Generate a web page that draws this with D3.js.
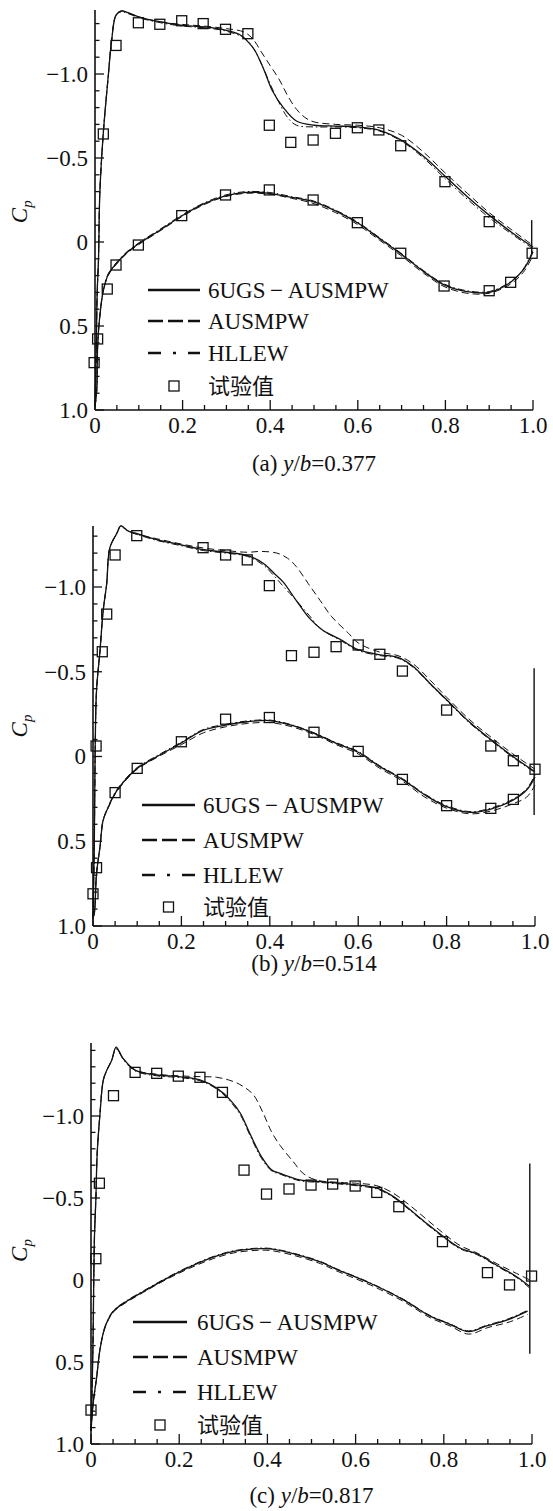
<!DOCTYPE html>
<html>
<head>
<meta charset="utf-8">
<script src="https://cdn.jsdelivr.net/npm/d3@7"></script>
<style>
body { margin: 0; background: #fff; }
</style>
</head>
<body>
<svg id="chart" width="553" height="1511"></svg>
<script>
// tick labels, legend and captions
var xTicksMajor = [0, 0.2, 0.4, 0.6, 0.8, 1.0];
var yTicksMajor = [-1.0, -0.5, 0, 0.5, 1.0];
var legendNames = ["6UGS\u2009\u2212\u2009AUSMPW", "AUSMPW", "HLLEW", "试验值"];
var captionLetters = ["(a)", "(b)", "(c)"];
var captionValues = ["0.377", "0.514", "0.817"];

// ---- panel (a) y/b=0.377 : [x/c, Cp]
var a_ugs_up = [[0,0.98],[0.003,0.6],[0.005,0.3],[0.008,0.1],[0.011,-0.29],[0.019,-0.65],[0.03,-0.98],[0.038,-1.2],[0.048,-1.35],[0.06,-1.375],[0.075,-1.365],[0.1,-1.34],[0.15,-1.31],[0.2,-1.29],[0.25,-1.28],[0.3,-1.26],[0.33,-1.235],[0.35,-1.19],[0.365,-1.14],[0.385,-1.03],[0.405,-0.9],[0.43,-0.8],[0.46,-0.72],[0.5,-0.695],[0.55,-0.69],[0.6,-0.685],[0.65,-0.665],[0.7,-0.605],[0.75,-0.51],[0.8,-0.39],[0.85,-0.27],[0.9,-0.16],[0.95,-0.06],[1.0,0.03]];
var a_ausm_up = [[0,0.98],[0.003,0.6],[0.005,0.3],[0.008,0.1],[0.011,-0.29],[0.019,-0.65],[0.03,-0.98],[0.038,-1.2],[0.048,-1.35],[0.06,-1.375],[0.075,-1.365],[0.1,-1.34],[0.15,-1.31],[0.2,-1.295],[0.25,-1.285],[0.3,-1.27],[0.34,-1.25],[0.36,-1.21],[0.38,-1.13],[0.4,-1.05],[0.42,-0.97],[0.44,-0.87],[0.46,-0.79],[0.48,-0.74],[0.5,-0.715],[0.55,-0.7],[0.6,-0.695],[0.65,-0.68],[0.7,-0.635],[0.75,-0.535],[0.8,-0.41],[0.85,-0.29],[0.9,-0.175],[0.95,-0.075],[1.0,0.02]];
var a_hllew_up = [[0,0.98],[0.003,0.6],[0.005,0.3],[0.008,0.1],[0.011,-0.29],[0.019,-0.65],[0.03,-0.98],[0.038,-1.2],[0.048,-1.35],[0.06,-1.37],[0.075,-1.36],[0.1,-1.335],[0.15,-1.305],[0.2,-1.285],[0.25,-1.275],[0.3,-1.255],[0.34,-1.215],[0.36,-1.16],[0.38,-1.06],[0.4,-0.94],[0.42,-0.83],[0.44,-0.74],[0.46,-0.695],[0.5,-0.685],[0.55,-0.685],[0.6,-0.68],[0.65,-0.66],[0.7,-0.6],[0.75,-0.5],[0.8,-0.375],[0.85,-0.255],[0.9,-0.145],[0.95,-0.05],[1.0,0.04]];
var a_ugs_lo = [[0,0.98],[0.004,0.88],[0.006,0.62],[0.011,0.44],[0.019,0.29],[0.03,0.195],[0.048,0.13],[0.072,0.065],[0.1,0.01],[0.148,-0.07],[0.198,-0.155],[0.247,-0.225],[0.298,-0.275],[0.346,-0.295],[0.398,-0.29],[0.449,-0.265],[0.498,-0.24],[0.549,-0.185],[0.599,-0.115],[0.65,-0.02],[0.698,0.07],[0.75,0.175],[0.797,0.255],[0.849,0.295],[0.9,0.3],[0.949,0.24],[0.978,0.165],[1.0,0.06]];
var a_ausm_lo = [[0,0.98],[0.004,0.88],[0.006,0.62],[0.011,0.44],[0.019,0.29],[0.03,0.2],[0.048,0.135],[0.072,0.07],[0.1,0.015],[0.148,-0.065],[0.198,-0.15],[0.247,-0.22],[0.298,-0.27],[0.346,-0.29],[0.398,-0.285],[0.449,-0.26],[0.498,-0.23],[0.549,-0.175],[0.599,-0.105],[0.65,-0.01],[0.698,0.08],[0.75,0.185],[0.797,0.265],[0.849,0.305],[0.9,0.305],[0.949,0.25],[0.978,0.18],[1.0,0.08]];
var a_hllew_lo = [[0,0.98],[0.004,0.88],[0.006,0.62],[0.011,0.44],[0.019,0.29],[0.03,0.19],[0.048,0.125],[0.072,0.06],[0.1,0.005],[0.148,-0.075],[0.198,-0.16],[0.247,-0.23],[0.298,-0.28],[0.346,-0.3],[0.398,-0.295],[0.449,-0.27],[0.498,-0.245],[0.549,-0.19],[0.599,-0.12],[0.65,-0.025],[0.698,0.065],[0.75,0.17],[0.797,0.25],[0.849,0.29],[0.9,0.295],[0.949,0.235],[0.978,0.16],[1.0,0.05]];
var a_exp = [[0.019,-0.643],[0.048,-1.17],[0.099,-1.305],[0.148,-1.296],[0.198,-1.317],[0.247,-1.30],[0.298,-1.266],[0.349,-1.24],[0.398,-0.695],[0.447,-0.593],[0.498,-0.607],[0.549,-0.647],[0.599,-0.68],[0.648,-0.667],[0.698,-0.573],[0.799,-0.359],[0.90,-0.121],[0.998,0.067],[0.099,0.018],[0.198,-0.157],[0.298,-0.28],[0.398,-0.31],[0.498,-0.25],[0.599,-0.115],[0.698,0.067],[0.797,0.262],[0.90,0.29],[0.949,0.24],[0.048,0.137],[0.028,0.28],[0.006,0.577],[-0.002,0.718]];
var a_te = [[0.997,-0.13],[0.997,0.07]];

// ---- panel (b) y/b=0.514
var b_ugs_up = [[0,0.95],[0.003,0.5],[0.005,-0.06],[0.008,-0.39],[0.016,-0.63],[0.023,-0.86],[0.031,-1.02],[0.038,-1.23],[0.054,-1.317],[0.063,-1.36],[0.08,-1.33],[0.1,-1.315],[0.144,-1.28],[0.197,-1.25],[0.25,-1.22],[0.3,-1.205],[0.35,-1.185],[0.385,-1.14],[0.41,-1.08],[0.43,-1.03],[0.46,-0.92],[0.49,-0.815],[0.52,-0.745],[0.56,-0.69],[0.6,-0.63],[0.65,-0.6],[0.69,-0.585],[0.725,-0.53],[0.763,-0.43],[0.8,-0.335],[0.853,-0.2],[0.9,-0.1],[0.95,0.0],[1.0,0.09]];
var b_ausm_up = [[0,0.95],[0.003,0.5],[0.005,-0.06],[0.008,-0.39],[0.016,-0.63],[0.023,-0.86],[0.031,-1.02],[0.038,-1.23],[0.054,-1.317],[0.063,-1.355],[0.08,-1.33],[0.1,-1.31],[0.144,-1.285],[0.197,-1.255],[0.25,-1.23],[0.3,-1.215],[0.35,-1.205],[0.38,-1.21],[0.416,-1.2],[0.44,-1.17],[0.46,-1.12],[0.487,-1.02],[0.514,-0.92],[0.54,-0.825],[0.578,-0.727],[0.6,-0.67],[0.65,-0.615],[0.69,-0.595],[0.725,-0.545],[0.763,-0.45],[0.8,-0.35],[0.853,-0.215],[0.9,-0.115],[0.95,-0.015],[1.0,0.075]];
var b_hllew_up = [[0,0.95],[0.003,0.5],[0.005,-0.06],[0.008,-0.39],[0.016,-0.63],[0.023,-0.86],[0.031,-1.02],[0.038,-1.23],[0.054,-1.317],[0.063,-1.36],[0.08,-1.33],[0.1,-1.31],[0.144,-1.275],[0.197,-1.245],[0.25,-1.215],[0.3,-1.2],[0.35,-1.18],[0.385,-1.13],[0.41,-1.065],[0.43,-1.005],[0.453,-0.94],[0.49,-0.83],[0.514,-0.755],[0.56,-0.685],[0.6,-0.625],[0.65,-0.595],[0.69,-0.58],[0.725,-0.525],[0.763,-0.425],[0.8,-0.33],[0.853,-0.195],[0.9,-0.095],[0.95,0.005],[1.0,0.095]];
var b_ugs_lo = [[0,0.95],[0.003,0.925],[0.008,0.69],[0.016,0.53],[0.023,0.375],[0.035,0.296],[0.05,0.217],[0.076,0.13],[0.1,0.07],[0.152,-0.01],[0.2,-0.08],[0.25,-0.155],[0.3,-0.185],[0.35,-0.205],[0.4,-0.212],[0.446,-0.186],[0.5,-0.137],[0.55,-0.078],[0.6,-0.025],[0.649,0.06],[0.7,0.135],[0.751,0.227],[0.8,0.296],[0.853,0.33],[0.9,0.31],[0.951,0.256],[0.981,0.198],[1.0,0.12]];
var b_ausm_lo = [[0,0.95],[0.003,0.925],[0.008,0.69],[0.016,0.53],[0.023,0.375],[0.035,0.3],[0.05,0.222],[0.076,0.135],[0.1,0.075],[0.152,-0.005],[0.2,-0.07],[0.25,-0.14],[0.3,-0.175],[0.35,-0.195],[0.4,-0.2],[0.446,-0.178],[0.5,-0.13],[0.55,-0.07],[0.6,-0.015],[0.649,0.07],[0.7,0.145],[0.751,0.24],[0.8,0.305],[0.853,0.338],[0.9,0.322],[0.951,0.278],[0.981,0.24],[1.0,0.17]];
var b_hllew_lo = [[0,0.95],[0.003,0.925],[0.008,0.69],[0.016,0.53],[0.023,0.375],[0.035,0.292],[0.05,0.212],[0.076,0.125],[0.1,0.065],[0.152,-0.015],[0.2,-0.085],[0.25,-0.16],[0.3,-0.19],[0.35,-0.21],[0.4,-0.215],[0.446,-0.19],[0.5,-0.14],[0.55,-0.082],[0.6,-0.03],[0.649,0.055],[0.7,0.13],[0.751,0.222],[0.8,0.29],[0.853,0.325],[0.9,0.305],[0.951,0.25],[0.981,0.19],[1.0,0.11]];
var b_exp = [[0.099,-1.303],[0.05,-1.189],[0.031,-0.84],[0.021,-0.618],[0.249,-1.232],[0.3,-1.189],[0.349,-1.16],[0.399,-1.008],[0.007,-0.062],[0.2,-0.087],[0.3,-0.22],[0.399,-0.23],[0.449,-0.595],[0.5,-0.615],[0.55,-0.648],[0.6,-0.658],[0.649,-0.603],[0.7,-0.504],[0.8,-0.274],[0.9,-0.062],[0.5,-0.143],[0.6,-0.03],[0.1,0.07],[0.05,0.213],[0.008,0.656],[0.0,0.81],[0.7,0.135],[0.8,0.29],[0.9,0.306],[0.951,0.253],[1.0,0.075],[0.951,0.025]];
var b_te = [[0.998,-0.52],[0.998,0.345]];

// ---- panel (c) y/b=0.817
var c_ugs_up = [[0,0.92],[0.003,0.6],[0.005,0.3],[0.006,0.05],[0.008,-0.28],[0.011,-0.49],[0.014,-0.77],[0.02,-1.0],[0.028,-1.22],[0.036,-1.28],[0.047,-1.34],[0.057,-1.42],[0.073,-1.35],[0.1,-1.28],[0.149,-1.25],[0.198,-1.24],[0.247,-1.22],[0.285,-1.17],[0.315,-1.1],[0.338,-1.02],[0.36,-0.895],[0.387,-0.75],[0.41,-0.67],[0.429,-0.65],[0.474,-0.61],[0.52,-0.6],[0.565,-0.59],[0.602,-0.58],[0.648,-0.56],[0.685,-0.51],[0.723,-0.43],[0.761,-0.345],[0.799,-0.265],[0.837,-0.195],[0.875,-0.16],[0.92,-0.09],[0.965,-0.02],[0.995,0.04]];
var c_ausm_up = [[0,0.92],[0.003,0.6],[0.005,0.3],[0.006,0.05],[0.008,-0.28],[0.011,-0.49],[0.014,-0.77],[0.02,-1.0],[0.028,-1.22],[0.036,-1.28],[0.047,-1.34],[0.057,-1.41],[0.073,-1.35],[0.1,-1.28],[0.149,-1.255],[0.198,-1.245],[0.247,-1.24],[0.285,-1.236],[0.323,-1.21],[0.345,-1.18],[0.368,-1.13],[0.39,-1.02],[0.41,-0.9],[0.429,-0.82],[0.459,-0.72],[0.481,-0.65],[0.51,-0.61],[0.565,-0.595],[0.602,-0.59],[0.648,-0.575],[0.685,-0.53],[0.723,-0.455],[0.761,-0.37],[0.799,-0.285],[0.837,-0.21],[0.875,-0.165],[0.92,-0.1],[0.965,-0.04],[0.995,0.0]];
var c_hllew_up = [[0,0.92],[0.003,0.6],[0.005,0.3],[0.006,0.05],[0.008,-0.28],[0.011,-0.49],[0.014,-0.77],[0.02,-1.0],[0.028,-1.22],[0.036,-1.28],[0.047,-1.34],[0.057,-1.415],[0.073,-1.345],[0.1,-1.275],[0.149,-1.245],[0.198,-1.235],[0.247,-1.215],[0.285,-1.165],[0.315,-1.09],[0.338,-1.01],[0.36,-0.885],[0.387,-0.74],[0.41,-0.665],[0.429,-0.645],[0.474,-0.605],[0.52,-0.595],[0.565,-0.585],[0.602,-0.575],[0.648,-0.555],[0.685,-0.505],[0.723,-0.425],[0.761,-0.34],[0.799,-0.26],[0.837,-0.19],[0.875,-0.155],[0.92,-0.085],[0.965,-0.015],[0.995,0.05]];
var c_ugs_lo = [[0,0.92],[0.005,0.75],[0.013,0.59],[0.02,0.43],[0.032,0.285],[0.051,0.19],[0.081,0.13],[0.119,0.07],[0.172,-0.01],[0.224,-0.08],[0.277,-0.14],[0.323,-0.175],[0.37,-0.19],[0.406,-0.19],[0.46,-0.16],[0.52,-0.11],[0.557,-0.065],[0.633,0.02],[0.708,0.12],[0.769,0.22],[0.814,0.27],[0.856,0.315],[0.897,0.28],[0.943,0.245],[0.99,0.19]];
var c_ausm_lo = [[0,0.92],[0.005,0.75],[0.013,0.59],[0.02,0.43],[0.032,0.29],[0.051,0.195],[0.081,0.135],[0.119,0.075],[0.172,-0.005],[0.224,-0.072],[0.277,-0.13],[0.323,-0.165],[0.37,-0.18],[0.406,-0.18],[0.46,-0.15],[0.52,-0.1],[0.557,-0.055],[0.633,0.03],[0.708,0.13],[0.769,0.23],[0.814,0.28],[0.856,0.33],[0.9,0.29],[0.95,0.255],[0.99,0.21]];
var c_hllew_lo = [[0,0.92],[0.005,0.75],[0.013,0.59],[0.02,0.43],[0.032,0.282],[0.051,0.186],[0.081,0.126],[0.119,0.066],[0.172,-0.014],[0.224,-0.084],[0.277,-0.143],[0.323,-0.178],[0.37,-0.193],[0.406,-0.193],[0.46,-0.163],[0.52,-0.113],[0.557,-0.068],[0.633,0.017],[0.708,0.117],[0.769,0.217],[0.814,0.267],[0.856,0.31],[0.897,0.276],[0.943,0.24],[0.99,0.185]];
var c_exp = [[0.051,-1.124],[0.1,-1.266],[0.149,-1.26],[0.198,-1.243],[0.247,-1.236],[0.298,-1.144],[0.347,-0.67],[0.398,-0.524],[0.019,-0.59],[0.011,-0.13],[0.449,-0.555],[0.499,-0.579],[0.548,-0.585],[0.599,-0.573],[0.648,-0.534],[0.698,-0.447],[0.797,-0.234],[0.0,0.793],[0.899,-0.045],[0.949,0.03],[0.999,-0.024]];
var c_te = [[0.995,-0.71],[0.995,0.45]];

// layout of the three stacked panels (pixel positions only)
var panels = [
  {data: {ugs: [a_ugs_up, a_ugs_lo], ausm: [a_ausm_up, a_ausm_lo], hllew: [a_hllew_up, a_hllew_lo], exp: a_exp, te: a_te},
   xr: [95, 533], yr: [74, 410], yTop: 10, leg: {x1: 148, x2: 200, tx: 208, rows: [290, 321, 353, 386]}, capY: 471},
  {data: {ugs: [b_ugs_up, b_ugs_lo], ausm: [b_ausm_up, b_ausm_lo], hllew: [b_hllew_up, b_hllew_lo], exp: b_exp, te: b_te},
   xr: [93, 535], yr: [587, 926], yTop: 526, leg: {x1: 142, x2: 195, tx: 203, rows: [805, 840, 875, 907]}, capY: 971},
  {data: {ugs: [c_ugs_up, c_ugs_lo], ausm: [c_ausm_up, c_ausm_lo], hllew: [c_hllew_up, c_hllew_lo], exp: c_exp, te: c_te},
   xr: [91, 532], yr: [1116, 1444], yTop: 1043, leg: {x1: 133, x2: 187, tx: 197, rows: [1322, 1357, 1392, 1425]}, capY: 1503}
];

var styles = {
  ugs:   {w: 1.3, dash: null,        lw: 2.6, ldash: null},
  ausm:  {w: 1.0, dash: "7,4",       lw: 2.6, ldash: "15,5"},
  hllew: {w: 1.0, dash: "7,3,1.5,3", lw: 2.6, ldash: "13,12,3,12"}
};

var serif = "'Liberation Serif', 'Times New Roman', serif";
var svg = d3.select("#chart").attr("font-family", serif);
var fmt = function (d) { return d === 0 ? "0" : d3.format(".1f")(d); };

panels.forEach(function (p, i) {
  var x = d3.scaleLinear().domain([0, 1]).range(p.xr);
  var y = d3.scaleLinear().domain([-1, 1]).range(p.yr);
  var g = svg.append("g").attr("font-family", serif).attr("fill", "#111");

  var line = d3.line()
    .x(function (d) { return x(d[0]); })
    .y(function (d) { return y(d[1]); })
    .curve(d3.curveCatmullRom.alpha(0.5));

  // computed curves, upper and lower surface
  ["hllew", "ausm", "ugs"].forEach(function (k) {
    p.data[k].forEach(function (arr) {
      g.append("path")
        .attr("d", line(arr))
        .attr("fill", "none")
        .attr("stroke", "#111")
        .attr("stroke-width", styles[k].w)
        .attr("stroke-dasharray", styles[k].dash);
    });
  });

  // trailing edge line
  g.append("path")
    .attr("d", d3.line().x(function (d) { return x(d[0]); }).y(function (d) { return y(d[1]); })(p.data.te))
    .attr("stroke", "#111").attr("stroke-width", 1.4).attr("fill", "none");

  // experiment squares
  g.selectAll(".sq").data(p.data.exp).enter().append("rect")
    .attr("x", function (d) { return x(d[0]) - 5; })
    .attr("y", function (d) { return y(d[1]) - 5; })
    .attr("width", 10).attr("height", 10)
    .attr("fill", "none").attr("stroke", "#111").attr("stroke-width", 1.3);

  // axes (ticks point inwards)
  var yTopVal = y.invert(p.yTop);
  var yMinor = d3.range(1.0, yTopVal - 0.001, -0.1);
  var xMinor = d3.range(0, 1.0001, 0.05);
  var ax = g.append("g").attr("stroke", "#111").attr("stroke-width", 1.3);
  ax.append("line").attr("x1", x(0)).attr("x2", x(0)).attr("y1", p.yTop).attr("y2", y(1)).attr("stroke-width", 1.6);
  ax.append("line").attr("x1", x(0)).attr("x2", x(1)).attr("y1", y(1)).attr("y2", y(1)).attr("stroke-width", 1.6);
  ax.selectAll(".ym").data(yMinor).enter().append("line")
    .attr("x1", x(0)).attr("y1", function (d) { return y(d); }).attr("y2", function (d) { return y(d); })
    .attr("x2", function (d) { return x(0) + (Math.abs(d * 2 - Math.round(d * 2)) < 0.01 ? 9 : 4.5); });
  ax.selectAll(".xm").data(xMinor).enter().append("line")
    .attr("y1", y(1)).attr("x1", function (d) { return x(d); }).attr("x2", function (d) { return x(d); })
    .attr("y2", function (d) { return y(1) - (Math.abs(d * 5 - Math.round(d * 5)) < 0.01 ? 10 : 5); });

  g.selectAll(".yl").data(yTicksMajor).enter().append("text")
    .attr("x", x(0) - 7).attr("y", function (d) { return y(d); }).attr("dy", "0.34em")
    .attr("text-anchor", "end").attr("font-size", 23).text(fmt);
  g.selectAll(".xl").data(xTicksMajor).enter().append("text")
    .attr("x", function (d) { return x(d); }).attr("y", y(1) + 23)
    .attr("text-anchor", "middle").attr("font-size", 23).text(fmt);

  // Cp label
  var cp = g.append("text")
    .attr("transform", "translate(" + 27 + "," + y(-0.18) + ") rotate(-90)")
    .attr("text-anchor", "middle").attr("font-size", 23).attr("font-style", "italic");
  cp.append("tspan").text("C");
  cp.append("tspan").attr("dy", 5).attr("font-size", 15).text("p");

  // legend
  var L = p.leg;
  ["ugs", "ausm", "hllew"].forEach(function (k, j) {
    g.append("line").attr("x1", L.x1).attr("x2", L.x2).attr("y1", L.rows[j]).attr("y2", L.rows[j])
      .attr("stroke", "#111").attr("stroke-width", styles[k].lw).attr("stroke-dasharray", styles[k].ldash);
  });
  g.append("rect").attr("x", (L.x1 + L.x2) / 2 - 5).attr("y", L.rows[3] - 5).attr("width", 10).attr("height", 10)
    .attr("fill", "none").attr("stroke", "#111").attr("stroke-width", 1.3);
  legendNames.forEach(function (name, j) {
    g.append("text").attr("x", L.tx).attr("y", L.rows[j]).attr("dy", "0.36em")
      .attr("font-size", j === 3 ? 22 : 23)
      .attr("font-family", j === 3 ? "'Noto Sans CJK SC', sans-serif" : serif)
      .text(name);
  });

  // caption
  var cap = g.append("text").attr("x", (p.xr[0] + p.xr[1]) / 2).attr("y", p.capY)
    .attr("text-anchor", "middle").attr("font-size", 23);
  cap.append("tspan").text(captionLetters[i] + " ");
  cap.append("tspan").attr("font-style", "italic").text("y");
  cap.append("tspan").text("/");
  cap.append("tspan").attr("font-style", "italic").text("b");
  cap.append("tspan").text("=" + captionValues[i]);
});
</script>
</body>
</html>
